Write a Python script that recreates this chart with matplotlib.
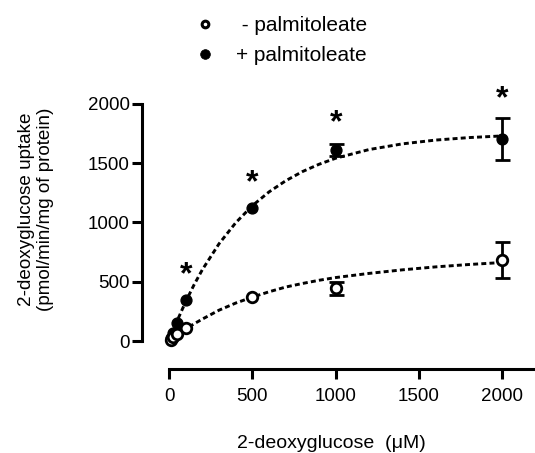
import matplotlib
matplotlib.use("Agg")
import matplotlib.pyplot as plt
from matplotlib.lines import Line2D

plt.rcParams['font.family'] = ['Liberation Sans', 'DejaVu Sans']

# measured uptake, mean and sem (0 where the bar hides inside the marker)
conc = [10, 25, 50, 100, 500, 1000, 2000]
plus_mean = [25, 70, 155, 345, 1120, 1610, 1700]
plus_sem = [0, 0, 0, 0, 0, 50, 178]
minus_mean = [10, 30, 60, 110, 370, 445, 685]
minus_sem = [0, 0, 0, 0, 0, 56, 150]

# fitted curves
fit_x = [0, 50, 100, 150, 200, 300, 400, 500, 600, 700, 800, 900, 1000,
         1200, 1400, 1600, 1800, 2000]
plus_fit = [0, 175, 332, 474, 602, 820, 997, 1141, 1257, 1351, 1428, 1490,
            1541, 1614, 1662, 1694, 1715, 1729]
minus_fit = [0, 50, 100, 145, 185, 260, 320, 370, 415, 455, 485, 512, 535,
             570, 600, 625, 645, 662]

# points marked significant
star_conc = [100, 500, 1000, 2000]
star_gap = [290, 290, 255, 245]

fig = plt.figure(figsize=(5.35, 4.53), dpi=100)
ax = fig.add_axes([0.2649, 0.1854, 0.7351, 0.6248])

dash = (0, (1.7, 1.1))
ax.plot(fit_x, plus_fit, color='black', lw=2.1, ls=dash, zorder=2)
ax.plot(fit_x, minus_fit, color='black', lw=2.1, ls=dash, zorder=2)


def draw_series(mean, sem, face, ms, mew, z):
    idx = [i for i in range(len(conc)) if sem[i] > 0]
    ax.errorbar([conc[i] for i in idx], [mean[i] for i in idx],
                yerr=[sem[i] for i in idx], fmt='none', ecolor='black',
                elinewidth=2, capsize=5.4, capthick=2, zorder=z)
    ax.plot(conc, mean, 'o', ms=ms, mfc=face, mec='black', mew=mew,
            zorder=z + 0.5)


draw_series(plus_mean, plus_sem, 'black', 7.8, 1.0, 3)
draw_series(minus_mean, minus_sem, 'white', 7.6, 2.0, 4)

for c, g in zip(star_conc, star_gap):
    i = conc.index(c)
    top = plus_mean[i] + plus_sem[i]
    ax.annotate('*', (c, top + g), xytext=(0, -7), textcoords='offset points',
                ha='center', va='center', fontsize=23, fontweight='bold',
                annotation_clip=False)

ax.set_xlim(-164, 2196)
ax.set_ylim(-236, 2150)
ax.set_xticks([0, 500, 1000, 1500, 2000])
ax.set_yticks([0, 500, 1000, 1500, 2000])

for s in ['top', 'right']:
    ax.spines[s].set_visible(False)
ax.spines['left'].set_bounds(0, 2000)
ax.spines['bottom'].set_bounds(0, 2196)
ax.spines['left'].set_linewidth(2.2)
ax.spines['bottom'].set_linewidth(2.2)
ax.tick_params(axis='both', direction='out', length=7, width=2.2,
               labelsize=13.5)
ax.tick_params(axis='y', pad=1.7)
ax.tick_params(axis='x', pad=6.5)

ax.set_xlabel('2-deoxyglucose  (\u03bcM)', fontsize=14, va='center')
ax.xaxis.set_label_coords(331 / 535, 1 - 443 / 453, transform=fig.transFigure)

fig.text(36 / 535, 1 - 209 / 453,
         '2-deoxyglucose uptake\n(pmol/min/mg of protein)',
         rotation=90, ha='center', va='center', fontsize=13.6,
         multialignment='center')

handles = [Line2D([], [], ls='none', marker='o', ms=4.8, mfc='white',
                  mec='black', mew=2.2),
           Line2D([], [], ls='none', marker='o', ms=7, mfc='black',
                  mec='black', mew=0.5)]
ax.legend(handles, [' - palmitoleate', '+ palmitoleate'], loc='upper left',
          bbox_to_anchor=(195 / 535, 1 - 16 / 453),
          bbox_transform=fig.transFigure,
          frameon=False, fontsize=15, borderpad=0, borderaxespad=0,
          handlelength=1.0, handletextpad=0.95, labelspacing=0.55)

fig.savefig('out.png', dpi=100)
